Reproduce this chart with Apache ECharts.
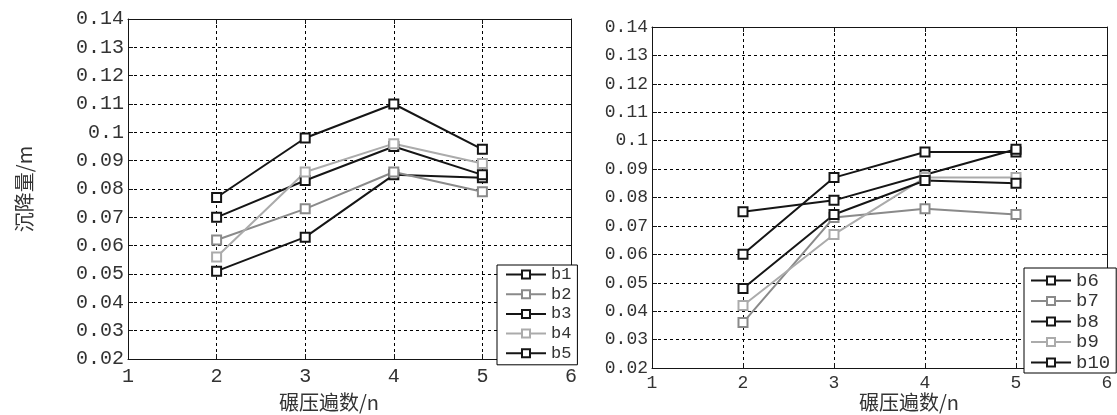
<!DOCTYPE html>
<html>
<head>
<meta charset="utf-8">
<script src="https://cdn.jsdelivr.net/npm/echarts@6/dist/echarts.min.js"></script>
<style>
    html, body { margin: 0; padding: 0; background: #fff; }
    #chart { width: 1117px; height: 415px; }
</style>
</head>
<body>
<div id="chart"></div>
<script>
    // 碾压遍数
    let passes = [2, 3, 4, 5];
    let xTicks = ['1', '2', '3', '4', '5', '6'];

    // 左图 b1-b5 沉降量
    let b1 = [0.051, 0.063, 0.085, 0.084];
    let b2 = [0.062, 0.073, 0.086, 0.079];
    let b3 = [0.070, 0.083, 0.095, 0.085];
    let b4 = [0.056, 0.086, 0.096, 0.089];
    let b5 = [0.077, 0.098, 0.110, 0.094];

    // 右图 b6-b10 沉降量
    let b6 = [0.060, 0.087, 0.096, 0.096];
    let b7 = [0.036, 0.073, 0.076, 0.074];
    let b8 = [0.075, 0.079, 0.088, 0.097];
    let b9 = [0.042, 0.067, 0.087, 0.087];
    let b10 = [0.048, 0.074, 0.086, 0.085];

    let black = '#151515';
    let gray = '#8a8a8a';
    let lightGray = '#ababab';
    let mono = '"Liberation Mono", "DejaVu Sans Mono", monospace';
    let cjk = '"Noto Sans CJK SC", sans-serif';

    function makeSeries(name, values, color, gridIdx) {
        return {
            name: name,
            type: 'line',
            xAxisIndex: gridIdx * 2,
            yAxisIndex: gridIdx * 2,
            data: passes.map(function (p, i) { return [p, values[i]]; }),
            symbol: 'emptyRect',
            symbolSize: 9,
            lineStyle: { width: 2, color: color },
            itemStyle: { color: color, borderWidth: 2 },
            z: 5
        };
    }

    function xAxes(gridIdx, fontSize, margin) {
        return [
            {
                type: 'value', gridIndex: gridIdx, min: 1, max: 6, interval: 1,
                position: 'bottom',
                axisLine: { lineStyle: { color: black, width: 1 } },
                axisTick: { inside: true, length: 5, lineStyle: { color: black } },
                axisLabel: {
                    color: '#333', fontSize: fontSize, fontFamily: mono, margin: margin,
                    formatter: function (v) { return xTicks[v - 1]; }
                },
                splitLine: { show: true, lineStyle: { color: '#000', type: [3, 3], width: 1 } }
            },
            {
                type: 'value', gridIndex: gridIdx, min: 1, max: 6, interval: 1,
                position: 'top',
                axisLine: { lineStyle: { color: black, width: 1 } },
                axisTick: { inside: true, length: 5, lineStyle: { color: black } },
                axisLabel: { show: false },
                splitLine: { show: false }
            }
        ];
    }

    function yAxes(gridIdx, fontSize, margin, name) {
        return [
            {
                type: 'value', gridIndex: gridIdx, min: 0.02, max: 0.14, interval: 0.01,
                position: 'left',
                name: name,
                nameLocation: 'middle',
                nameGap: 94,
                nameRotate: 90,
                nameTextStyle: { fontSize: 20, fontFamily: cjk, color: '#333' },
                axisLine: { lineStyle: { color: black, width: 1 } },
                axisTick: { inside: true, length: 5, lineStyle: { color: black } },
                axisLabel: { color: '#333', fontSize: fontSize, fontFamily: mono, margin: margin },
                splitLine: { show: true, lineStyle: { color: '#000', type: [3, 3], width: 1 } }
            },
            {
                type: 'value', gridIndex: gridIdx, min: 0.02, max: 0.14, interval: 0.01,
                position: 'right',
                axisLine: { lineStyle: { color: black, width: 1 } },
                axisTick: { inside: true, length: 5, lineStyle: { color: black } },
                axisLabel: { show: false },
                splitLine: { show: false }
            }
        ];
    }

    function legendBox(names, left, top, gap, padding, fontSize) {
        return {
            data: names,
            orient: 'vertical',
            left: left,
            top: top,
            padding: padding,
            itemGap: gap,
            itemWidth: 40,
            itemHeight: 10,
            itemTextGap: 4,
            backgroundColor: '#fff',
            borderColor: '#000',
            borderWidth: 1,
            borderRadius: 0,
            textStyle: { fontSize: fontSize, lineHeight: 16, fontFamily: mono, color: '#333' }
        };
    }

    let myChart = echarts.init(document.getElementById('chart'));

    let option = {
        animation: false,
        backgroundColor: '#fff',
        title: [
            {
                text: '碾压遍数/n', left: 329, top: 392, textAlign: 'center', padding: 0,
                textStyle: { fontSize: 20, fontWeight: 'normal', fontFamily: cjk, color: '#333' }
            },
            {
                text: '碾压遍数/n', left: 909, top: 392, textAlign: 'center', padding: 0,
                textStyle: { fontSize: 20, fontWeight: 'normal', fontFamily: cjk, color: '#333' }
            }
        ],
        grid: [
            { left: 128, top: 19, width: 443, height: 340 },
            { left: 652, top: 27, width: 455, height: 341 }
        ],
        legend: [
            legendBox(['b1', 'b2', 'b3', 'b4', 'b5'], 497, 265, 2.7, [1, 6, 3, 8], 17),
            legendBox(['b6', 'b7', 'b8', 'b9', 'b10'], 1024, 268, 1.5, [3, 6, 1, 6], 19)
        ],
        xAxis: xAxes(0, 20, 8).concat(xAxes(1, 18, 6)),
        yAxis: yAxes(0, 20, 4, '沉降量/m').concat(yAxes(1, 18, 4, '')),
        series: [
            makeSeries('b1', b1, black, 0),
            makeSeries('b2', b2, gray, 0),
            makeSeries('b3', b3, black, 0),
            makeSeries('b4', b4, lightGray, 0),
            makeSeries('b5', b5, black, 0),
            makeSeries('b6', b6, black, 1),
            makeSeries('b7', b7, gray, 1),
            makeSeries('b8', b8, black, 1),
            makeSeries('b9', b9, lightGray, 1),
            makeSeries('b10', b10, black, 1)
        ]
    };

    myChart.setOption(option);
</script>
</body>
</html>
